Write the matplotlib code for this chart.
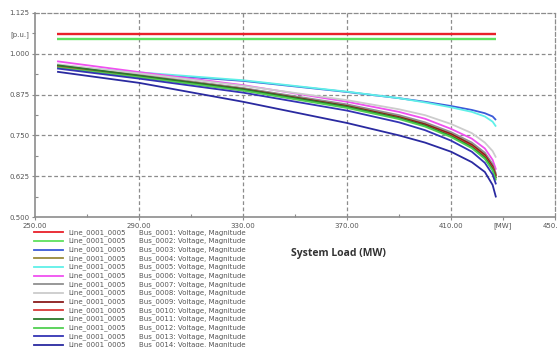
import numpy as np
import matplotlib
matplotlib.use('Agg')
import matplotlib.pyplot as plt
from matplotlib.lines import Line2D
from matplotlib.ticker import FixedLocator, FixedFormatter

# system load steps (MW)
load = [258.5, 290, 330, 370, 390, 400, 410, 418, 423, 426, 427.3]

bus_names = ['Bus_%04d: Voltage, Magnitude' % i for i in range(1, 15)]
line_name = 'Line_0001_0005'

# slack and PV bus held constant
v_bus1 = [1.060] * len(load)
v_bus2 = [1.045] * len(load)

v_bus3 = [0.960, 0.940, 0.917, 0.883, 0.864, 0.853, 0.840, 0.828, 0.818, 0.808, 0.797]
v_bus4 = [0.966, 0.936, 0.894, 0.842, 0.808, 0.786, 0.756, 0.723, 0.692, 0.657, 0.628]
v_bus5 = [0.963, 0.943, 0.919, 0.884, 0.864, 0.851, 0.836, 0.822, 0.808, 0.792, 0.777]
v_bus6 = [0.977, 0.944, 0.904, 0.853, 0.822, 0.801, 0.770, 0.740, 0.710, 0.675, 0.645]
v_bus7 = [0.965, 0.935, 0.895, 0.845, 0.812, 0.790, 0.760, 0.728, 0.697, 0.662, 0.632]
v_bus8 = [0.968, 0.940, 0.902, 0.858, 0.830, 0.812, 0.785, 0.757, 0.728, 0.702, 0.682]
v_bus9 = [0.963, 0.932, 0.892, 0.840, 0.806, 0.784, 0.754, 0.721, 0.690, 0.655, 0.625]
v_bus10 = [0.961, 0.930, 0.889, 0.837, 0.803, 0.780, 0.750, 0.717, 0.685, 0.650, 0.620]
v_bus11 = [0.965, 0.933, 0.891, 0.838, 0.803, 0.780, 0.748, 0.714, 0.682, 0.647, 0.618]
v_bus12 = [0.958, 0.928, 0.887, 0.834, 0.800, 0.777, 0.745, 0.711, 0.678, 0.642, 0.612]
v_bus13 = [0.955, 0.924, 0.881, 0.826, 0.790, 0.766, 0.734, 0.700, 0.666, 0.630, 0.600]
v_bus14 = [0.945, 0.911, 0.853, 0.788, 0.750, 0.728, 0.700, 0.668, 0.638, 0.598, 0.560]

volts = [v_bus1, v_bus2, v_bus3, v_bus4, v_bus5, v_bus6, v_bus7,
         v_bus8, v_bus9, v_bus10, v_bus11, v_bus12, v_bus13, v_bus14]

colors = ['#e8202a', '#5ee05e', '#3a5ad8', '#9a8a3a', '#5ff0e8', '#f050f0', '#909090',
          '#cccccc', '#8a1a1a', '#d83838', '#2a7a2a', '#50d050', '#3434b4', '#2a2aa0']

x_major = [250, 290, 330, 370, 410, 430, 450]
x_major_lab = ['250.00', '290.00', '330.00', '370.00', '410.00', '[MW]', '450.00']
x_minor = [270, 310, 350, 390]
y_major = [0.500, 0.625, 0.750, 0.875, 1.000, 1.0625, 1.125]
y_major_lab = ['0.500', '0.625', '0.750', '0.875', '1.000', '[p.u.]', '1.125']
y_minor = [0.5625, 0.6875, 0.8125, 0.9375]

txt = '#555555'
gcol = '#8c8c8c'

fig = plt.figure(figsize=(5.58, 3.47), dpi=100)
ax = fig.add_axes([0.0627, 0.3746, 0.932, 0.588])

for i, (v, c) in enumerate(zip(volts, colors)):
    ax.plot(load, v, color=c, lw=1.7 if i < 2 else 1.3, solid_capstyle='butt')

ax.set_xlim(250, 450)
ax.set_ylim(0.5, 1.125)

ax.xaxis.set_major_locator(FixedLocator(x_major))
ax.xaxis.set_major_formatter(FixedFormatter(x_major_lab))
ax.xaxis.set_minor_locator(FixedLocator(x_minor))
ax.yaxis.set_major_locator(FixedLocator(y_major))
ax.yaxis.set_major_formatter(FixedFormatter(y_major_lab))
ax.yaxis.set_minor_locator(FixedLocator(y_minor))
ax.tick_params(axis='both', which='major', labelsize=5, labelcolor=txt, color=gcol,
               length=2.5, width=0.8, pad=1.5)
ax.tick_params(axis='both', which='minor', direction='in', color=gcol, length=2, width=0.8)

# dashed grid, skipping the unit-label ticks
for xv in [290, 330, 370, 410]:
    ax.axvline(xv, color=gcol, lw=0.9, ls=(0, (3, 2)), zorder=0)
for yv in [0.625, 0.750, 0.875, 1.000]:
    ax.axhline(yv, color=gcol, lw=0.9, ls=(0, (3, 2)), zorder=0)

for s in ['left', 'bottom']:
    ax.spines[s].set_color(gcol)
    ax.spines[s].set_linewidth(1.2)
for s in ['top', 'right']:
    ax.spines[s].set_color(gcol)
    ax.spines[s].set_linewidth(0.9)
    ax.spines[s].set_linestyle((0, (3, 2)))

fig.text(0.606, 0.27, 'System Load (MW)', fontsize=7.5, fontweight='bold',
         family='Open Sans', color='#333333', ha='center', va='center')

# legend rows below the axes
W, H = 558.0, 347.0
for i, c in enumerate(colors):
    yy = 1 - (232.3 + i * 8.67) / H
    fig.add_artist(Line2D([34 / W, 63 / W], [yy, yy], color=c, lw=1.3))
    fig.text(68 / W, yy, line_name, fontsize=5, color=txt, va='center')
    fig.text(139 / W, yy, bus_names[i], fontsize=5, color=txt, va='center')

fig.savefig('out.png', dpi=100)
